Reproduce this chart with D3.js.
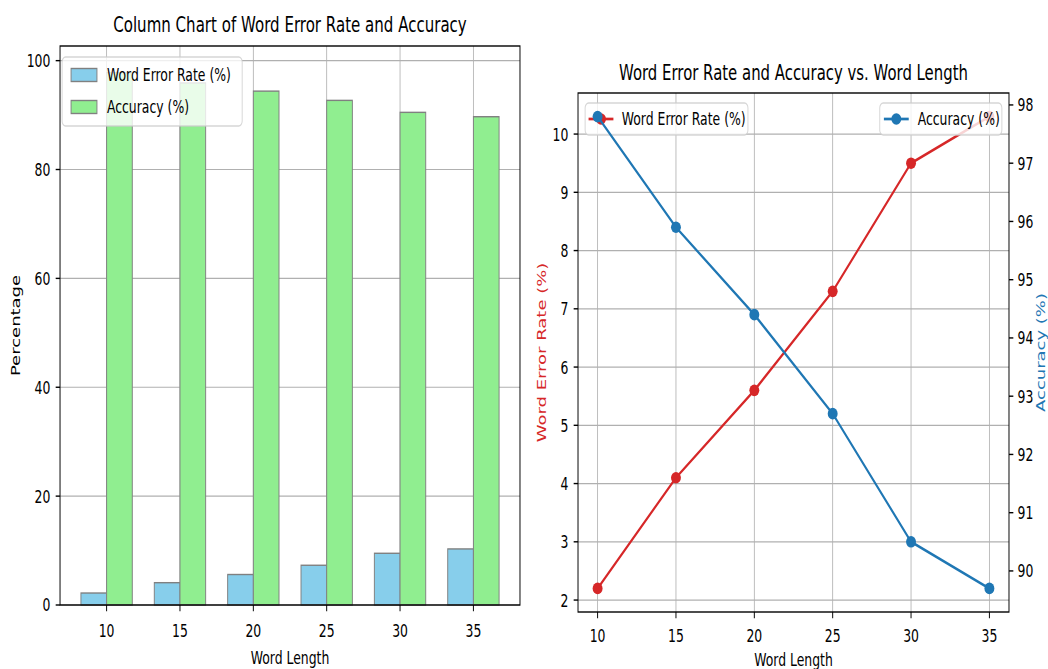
<!DOCTYPE html>
<html>
<head>
<meta charset="utf-8">
<script src="https://cdn.jsdelivr.net/npm/d3@7"></script>
<style>
  html, body { margin: 0; padding: 0; background: #fff; }
  svg { display: block; font-family: "DejaVu Sans", sans-serif; }
</style>
</head>
<body>
<svg id="chart" width="1048" height="669"></svg>
<script>
// ---------- data ----------
const wordLengths = [10, 15, 20, 25, 30, 35];
const werValues = [2.2, 4.1, 5.6, 7.3, 9.5, 10.3];
const accValues = [97.8, 95.9, 94.4, 92.7, 90.5, 89.7];
const barYTicks = [0, 20, 40, 60, 80, 100];
const lineXTicks = [10, 15, 20, 25, 30, 35];
const werTicks = [2, 3, 4, 5, 6, 7, 8, 9, 10];
const accTicks = [90, 91, 92, 93, 94, 95, 96, 97, 98];

// ---------- setup ----------
const SX = 0.69;                 // horizontal squeeze of the whole figure
const svg = d3.select("#chart");
const root = svg.append("g").attr("transform", `scale(${SX},1)`);

const FS = 18, TFS = 21.8;
const BLUE = "#1f77b4", RED = "#d62728";
const GRID = "#b0b0b0";

function legendFrame(g, x0, y0, x1, y1) {
  g.append("rect").attr("x", x0).attr("y", y0).attr("width", x1 - x0).attr("height", y1 - y0)
    .attr("rx", 5).attr("ry", 5)
    .attr("fill", "#fff").attr("fill-opacity", 0.8)
    .attr("stroke", "#cccccc").attr("stroke-opacity", 0.8).attr("stroke-width", 1.4);
}

// ================= LEFT: column chart =================
const L = { x0: 87, x1: 753.6, y0: 46, y1: 605 };
const bw = 0.35;
const nB = wordLengths.length - 1 + 2 * bw;
const xb = d3.scaleLinear().domain([-bw - 0.05 * nB, wordLengths.length - 1 + bw + 0.05 * nB])
  .range([L.x0, L.x1]);
const yb = d3.scaleLinear().domain([0, d3.max(accValues) * 1.05]).range([L.y1, L.y0]);

const gL = root.append("g");
// grid
gL.selectAll(".gy").data(barYTicks).join("line")
  .attr("x1", L.x0).attr("x2", L.x1).attr("y1", d => yb(d)).attr("y2", d => yb(d))
  .attr("stroke", GRID).attr("stroke-width", 1.2);
gL.selectAll(".gx").data(wordLengths).join("line")
  .attr("x1", (d, i) => xb(i)).attr("x2", (d, i) => xb(i)).attr("y1", L.y0).attr("y2", L.y1)
  .attr("stroke", GRID).attr("stroke-width", 1.2);
// bars
gL.selectAll(".wer").data(werValues).join("rect")
  .attr("x", (d, i) => xb(i - bw)).attr("width", xb(bw) - xb(0))
  .attr("y", d => yb(d)).attr("height", d => yb(0) - yb(d))
  .attr("fill", "#87ceeb").attr("stroke", "#808080").attr("stroke-width", 1.4);
gL.selectAll(".acc").data(accValues).join("rect")
  .attr("x", (d, i) => xb(i)).attr("width", xb(bw) - xb(0))
  .attr("y", d => yb(d)).attr("height", d => yb(0) - yb(d))
  .attr("fill", "#90ee90").attr("stroke", "#808080").attr("stroke-width", 1.4);
// spines
gL.append("rect").attr("x", L.x0).attr("y", L.y0).attr("width", L.x1 - L.x0).attr("height", L.y1 - L.y0)
  .attr("fill", "none").attr("stroke", "#000").attr("stroke-width", 1.4);
// ticks
gL.selectAll(".tx").data(wordLengths).join("line")
  .attr("x1", (d, i) => xb(i)).attr("x2", (d, i) => xb(i)).attr("y1", L.y1).attr("y2", L.y1 + 6.3)
  .attr("stroke", "#000").attr("stroke-width", 1.4);
gL.selectAll(".txl").data(wordLengths).join("text")
  .attr("x", (d, i) => xb(i)).attr("y", 637).attr("text-anchor", "middle")
  .attr("font-size", FS).text(d => d);
gL.selectAll(".ty").data(barYTicks).join("line")
  .attr("x1", L.x0 - 6.3).attr("x2", L.x0).attr("y1", d => yb(d)).attr("y2", d => yb(d))
  .attr("stroke", "#000").attr("stroke-width", 1.4);
gL.selectAll(".tyl").data(barYTicks).join("text")
  .attr("x", L.x0 - 14).attr("y", d => yb(d)).attr("dy", "0.36em").attr("text-anchor", "end")
  .attr("font-size", FS).text(d => d);
// labels
gL.append("text").attr("x", (L.x0 + L.x1) / 2).attr("y", 32).attr("text-anchor", "middle")
  .attr("font-size", TFS).text("Column Chart of Word Error Rate and Accuracy");
gL.append("text").attr("x", (L.x0 + L.x1) / 2).attr("y", 664).attr("text-anchor", "middle")
  .attr("font-size", FS).text("Word Length");
gL.append("text").attr("transform", `translate(29,${(L.y0 + L.y1) / 2}) rotate(-90)`)
  .attr("text-anchor", "middle").attr("font-size", FS).text("Percentage");
// legend
const lgL = gL.append("g");
legendFrame(lgL, 90, 57, 351, 126);
const legItems = [{ name: "Word Error Rate (%)", color: "#87ceeb", y: 75 }, { name: "Accuracy (%)", color: "#90ee90", y: 107 }];
legItems.forEach(it => {
  lgL.append("rect").attr("x", 103).attr("y", it.y - 6.5).attr("width", 37.5).attr("height", 13)
    .attr("fill", it.color).attr("stroke", "#808080").attr("stroke-width", 1.4);
  lgL.append("text").attr("x", 155).attr("y", it.y).attr("dy", "0.36em").attr("font-size", FS).text(it.name);
});

// ================= RIGHT: dual-axis line chart =================
const R = { x0: 837.7, x1: 1462.3, y0: 93, y1: 612 };
const xr0 = d3.min(wordLengths), xr1 = d3.max(wordLengths), xm = (xr1 - xr0) * 0.05;
const xl = d3.scaleLinear().domain([xr0 - xm, xr1 + xm]).range([R.x0, R.x1]);
const w0 = d3.min(werValues), w1 = d3.max(werValues), wm = (w1 - w0) * 0.05;
const y1s = d3.scaleLinear().domain([w0 - wm, w1 + wm]).range([R.y1, R.y0]);
const a0 = d3.min(accValues), a1 = d3.max(accValues), am = (a1 - a0) * 0.05;
const y2s = d3.scaleLinear().domain([a0 - am, a1 + am]).range([R.y1, R.y0]);

const gR = root.append("g");
gR.selectAll(".gy").data(werTicks).join("line")
  .attr("x1", R.x0).attr("x2", R.x1).attr("y1", d => y1s(d)).attr("y2", d => y1s(d))
  .attr("stroke", GRID).attr("stroke-width", 1.2);
gR.selectAll(".gx").data(lineXTicks).join("line")
  .attr("x1", d => xl(d)).attr("x2", d => xl(d)).attr("y1", R.y0).attr("y2", R.y1)
  .attr("stroke", GRID).attr("stroke-width", 1.2);

// WER line (ax1)
const werPts = wordLengths.map((d, i) => [d, werValues[i]]);
gR.append("path").datum(werPts)
  .attr("d", d3.line().x(d => xl(d[0])).y(d => y1s(d[1])))
  .attr("fill", "none").attr("stroke", RED).attr("stroke-width", 2.7);
gR.selectAll(".wm").data(werPts).join("ellipse")
  .attr("cx", d => xl(d[0])).attr("cy", d => y1s(d[1])).attr("rx", 7.2).attr("ry", 5.8)
  .attr("fill", RED);
// ax1 legend
const lg1 = gR.append("g");
legendFrame(lg1, 848, 103, 1084, 135);
lg1.append("line").attr("x1", 853).attr("x2", 889).attr("y1", 119).attr("y2", 119).attr("stroke", RED).attr("stroke-width", 2.7);
lg1.append("ellipse").attr("cx", 871).attr("cy", 119).attr("rx", 7.2).attr("ry", 5.8).attr("fill", RED);
lg1.append("text").attr("x", 901).attr("y", 119).attr("dy", "0.36em").attr("font-size", FS).text("Word Error Rate (%)");

// Accuracy line (ax2)
const accPts = wordLengths.map((d, i) => [d, accValues[i]]);
gR.append("path").datum(accPts)
  .attr("d", d3.line().x(d => xl(d[0])).y(d => y2s(d[1])))
  .attr("fill", "none").attr("stroke", BLUE).attr("stroke-width", 2.7);
gR.selectAll(".am").data(accPts).join("ellipse")
  .attr("cx", d => xl(d[0])).attr("cy", d => y2s(d[1])).attr("rx", 7.2).attr("ry", 5.8)
  .attr("fill", BLUE);
const lg2 = gR.append("g");
legendFrame(lg2, 1275, 103, 1452, 135);
lg2.append("line").attr("x1", 1281).attr("x2", 1317).attr("y1", 119).attr("y2", 119).attr("stroke", BLUE).attr("stroke-width", 2.7);
lg2.append("ellipse").attr("cx", 1299).attr("cy", 119).attr("rx", 7.2).attr("ry", 5.8).attr("fill", BLUE);
lg2.append("text").attr("x", 1330).attr("y", 119).attr("dy", "0.36em").attr("font-size", FS).text("Accuracy (%)");

// spines
gR.append("rect").attr("x", R.x0).attr("y", R.y0).attr("width", R.x1 - R.x0).attr("height", R.y1 - R.y0)
  .attr("fill", "none").attr("stroke", "#000").attr("stroke-width", 1.4);
// x ticks
gR.selectAll(".tx").data(lineXTicks).join("line")
  .attr("x1", d => xl(d)).attr("x2", d => xl(d)).attr("y1", R.y1).attr("y2", R.y1 + 6.3)
  .attr("stroke", "#000").attr("stroke-width", 1.4);
gR.selectAll(".txl").data(lineXTicks).join("text")
  .attr("x", d => xl(d)).attr("y", 642).attr("text-anchor", "middle").attr("font-size", FS).text(d => d);
// left y ticks
gR.selectAll(".ty1").data(werTicks).join("line")
  .attr("x1", R.x0 - 6.3).attr("x2", R.x0).attr("y1", d => y1s(d)).attr("y2", d => y1s(d))
  .attr("stroke", "#000").attr("stroke-width", 1.4);
gR.selectAll(".ty1l").data(werTicks).join("text")
  .attr("x", R.x0 - 14).attr("y", d => y1s(d)).attr("dy", "0.36em").attr("text-anchor", "end")
  .attr("font-size", FS).text(d => d);
// right y ticks
gR.selectAll(".ty2").data(accTicks).join("line")
  .attr("x1", R.x1).attr("x2", R.x1 + 6.3).attr("y1", d => y2s(d)).attr("y2", d => y2s(d))
  .attr("stroke", "#000").attr("stroke-width", 1.4);
gR.selectAll(".ty2l").data(accTicks).join("text")
  .attr("x", R.x1 + 12.5).attr("y", d => y2s(d)).attr("dy", "0.36em").attr("text-anchor", "start")
  .attr("font-size", FS).text(d => d);
// labels
gR.append("text").attr("x", (R.x0 + R.x1) / 2).attr("y", 80).attr("text-anchor", "middle")
  .attr("font-size", 21.6).text("Word Error Rate and Accuracy vs. Word Length");
gR.append("text").attr("x", (R.x0 + R.x1) / 2).attr("y", 666).attr("text-anchor", "middle")
  .attr("font-size", FS).text("Word Length");
gR.append("text").attr("transform", `translate(791,${(R.y0 + R.y1) / 2}) rotate(-90)`)
  .attr("text-anchor", "middle").attr("font-size", FS).attr("fill", RED).text("Word Error Rate (%)");
gR.append("text").attr("transform", `translate(1514,${(R.y0 + R.y1) / 2}) rotate(-90)`)
  .attr("text-anchor", "middle").attr("font-size", FS).attr("fill", BLUE).text("Accuracy (%)");
</script>
</body>
</html>
